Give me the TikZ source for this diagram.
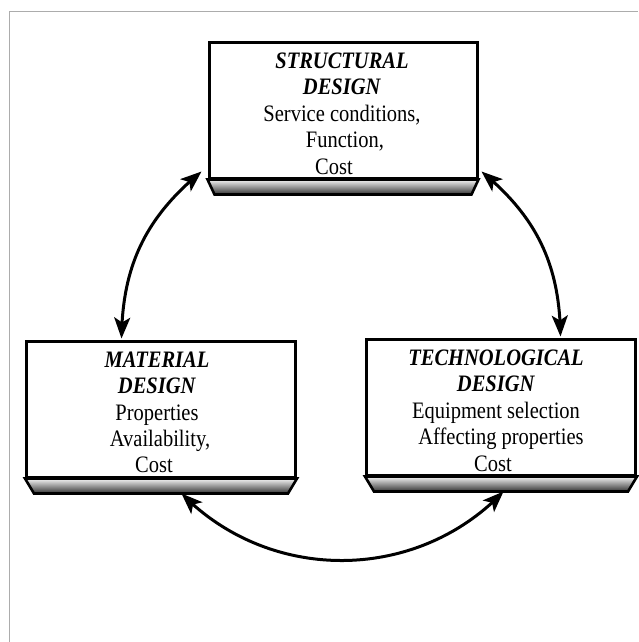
\documentclass[tikz,border=0pt]{standalone}
\usepackage{fontspec}
\setmainfont{Liberation Serif}
\usetikzlibrary{arrows.meta,bending}

\tikzset{
  x=1pt, y=1pt,
  box/.style={draw=black, line width=3pt, fill=white, inner sep=0pt,
              minimum width=269pt, minimum height=135.5pt},
  shelf/.style={draw=black, line width=2.6pt, line join=miter,
                top color=gray!8, bottom color=black!80},
  label/.style={align=center, inner sep=0pt, anchor=north,
                yscale=1.15, transform shape,
                font=\fontsize{20.5}{23}\selectfont},
  link/.style={line width=3pt,
               {Stealth[length=21pt,width=16pt,inset=5pt]}-{Stealth[length=21pt,width=16pt,inset=5pt]}},
  frameline/.style={draw=gray!65, line width=1pt}
}

% shelf under a box: slanted base with a grey gradient
\newcommand\drawshelf[3]{%
  \draw[shelf] (#1.south west) -- (#1.south east)
    -- ([xshift=-#2pt, yshift=-#3pt]#1.south east)
    -- ([xshift=#2pt, yshift=-#3pt]#1.south west) -- cycle;}

\begin{document}
\begin{tikzpicture}
  \useasboundingbox[fill=white] (0,0) rectangle (638,-642);

  % thin page frame
  \draw[frameline] (9.5,-642) -- (9.5,-12) -- (638,-12);

  % boxes
  \node[box, minimum width=268pt, minimum height=135pt] (sd) at (343,-110.5) {};
  \drawshelf{sd}{7}{15}
  \node[box] (md) at (161,-409.25) {};
  \drawshelf{md}{9}{15}
  \node[box] (td) at (501,-407.25) {};
  \drawshelf{td}{9}{15}

  % texts
  \node[label] (sdt) at (342,-52.4) {\textbf{\textit{STRUCTURAL}}\\
    \textbf{\textit{DESIGN}}\\ Service conditions,\\ \hspace*{6pt}Function,\\ Cost\hspace*{16pt}};
  \node[label] (mdt) at (157,-351.4) {\textbf{\textit{MATERIAL}}\\
    \textbf{\textit{DESIGN}}\\ Properties\hspace*{8pt}\\ \hspace*{6pt}Availability,\\ Cost\hspace*{6pt}};
  \node[label] (tdt) at (496,-349.4) {\textbf{\textit{TECHNOLOGICAL}}\\
    \textbf{\textit{DESIGN}}\hspace*{8pt}\\ Equipment selection\\ \hspace*{10pt}Affecting properties\\ Cost\hspace*{6pt}};

  % connectors between the three design areas
  \coordinate (sdL) at ([xshift=-6pt, yshift=8pt]sd.south west);
  \coordinate (sdR) at ([xshift=3pt, yshift=8pt]sd.south east);
  \coordinate (mdT) at ([xshift=96.5pt, yshift=1.5pt]md.north west);
  \coordinate (tdT) at ([xshift=195.5pt, yshift=1.5pt]td.north west);
  \coordinate (mdB) at ([xshift=156.5pt, yshift=-15pt]md.south west);
  \coordinate (tdB) at ([xshift=138.5pt, yshift=-15pt]td.south west);

  \draw[link] (mdT) to[bend left=25] (sdL);
  \draw[link] (sdR) to[bend left=25] (tdT);
  \draw[link] (mdB) to[bend right=46] (tdB);
\end{tikzpicture}
\end{document}
